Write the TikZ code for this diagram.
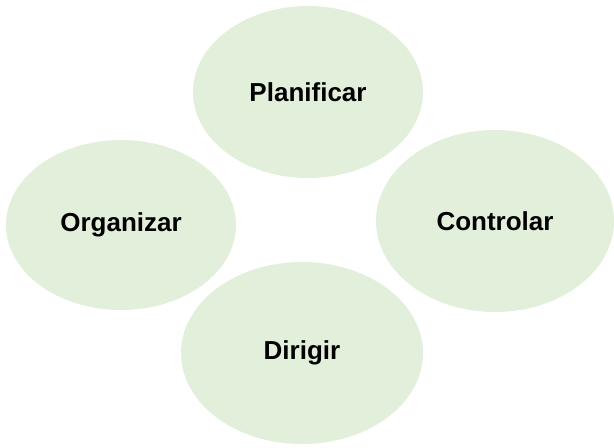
\documentclass[tikz,border=0pt]{standalone}
\usepackage{fontspec}
\setmainfont{Liberation Sans}
\usetikzlibrary{shapes.geometric}
\definecolor{verdeclaro}{RGB}{226,239,218}
\tikzset{fase/.style={ellipse, fill=verdeclaro, inner sep=0pt, font=\fontsize{13}{15}\selectfont\bfseries}}
\begin{document}
\begin{tikzpicture}[x=0.5pt,y=-0.5pt]
\useasboundingbox (0,0) rectangle (614,447);
\node[fase, minimum width=115pt, minimum height=86pt] (planificar) at (308,92) {Planificar};
\node[fase, minimum width=115pt, minimum height=85pt] (organizar) at (121,225) {Organizar};
\node[fase, minimum width=119pt, minimum height=91pt] (controlar) at (495,221) {Controlar};
\node[fase, minimum width=121pt, minimum height=91pt] (dirigir) at (302,353) {Dirigir};
\end{tikzpicture}
\end{document}
